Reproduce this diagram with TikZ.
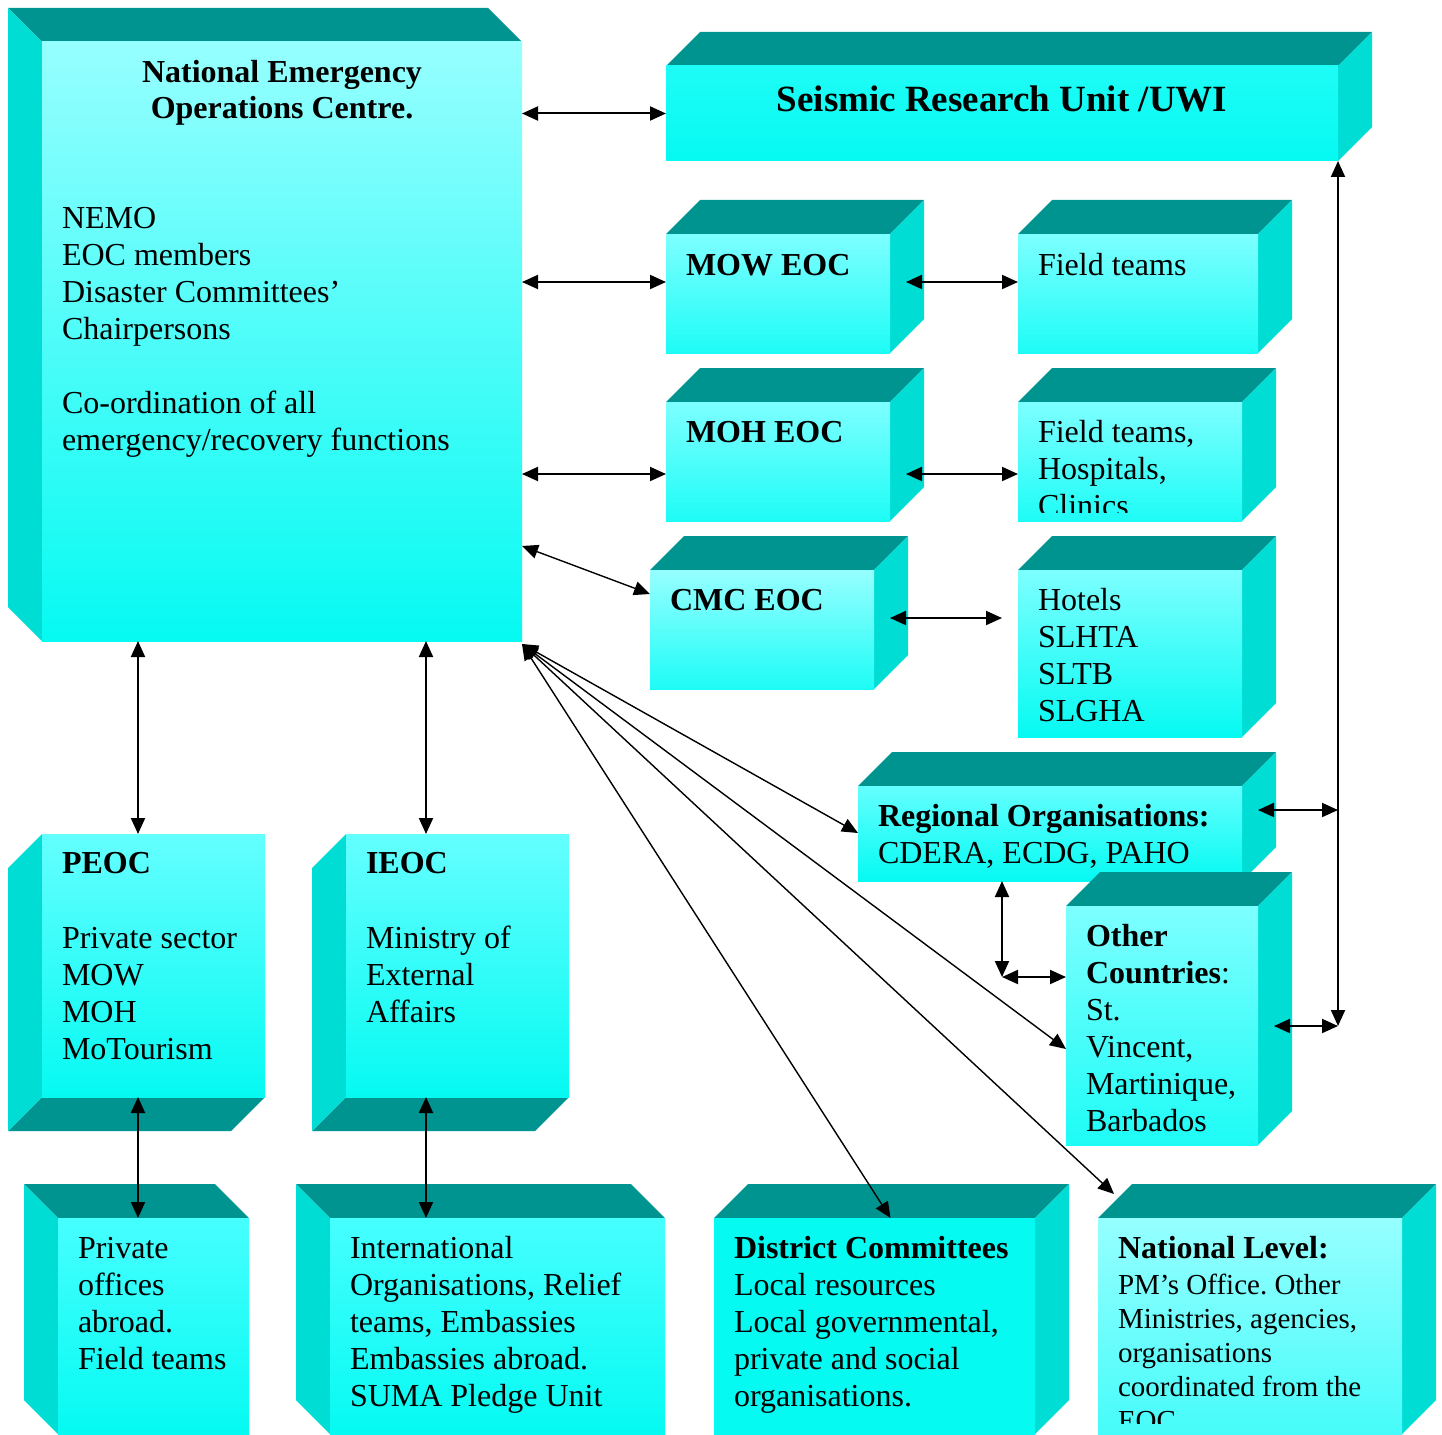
\documentclass[tikz,border=0pt]{standalone}
\usepackage{fontspec}
\setmainfont{Liberation Serif}
\usetikzlibrary{arrows.meta}
\frenchspacing
\definecolor{topc}{RGB}{0,148,144}
\definecolor{sidec}{RGB}{0,221,213}
\definecolor{lt}{RGB}{150,255,255}
\definecolor{ltb}{RGB}{125,255,255}
\definecolor{md}{RGB}{100,255,255}
\definecolor{mdb}{RGB}{70,255,255}
\definecolor{cy}{RGB}{5,250,242}
\definecolor{cyb}{RGB}{30,252,246}
\definecolor{natb}{RGB}{70,252,250}
\newcommand\fs[2]{\fontsize{#1}{#2}\selectfont}
\newcommand\fl{\rule{0pt}{24pt}}
% front face node + faces, extrusion up-right
\newcommand\cubeUR[7]{%
  \fill[topface] (#2,#3) -- ({#2+34},{#3-34}) -- ({#4+34},{#3-34}) -- (#4,#3) -- cycle;
  \fill[sideface] (#4,#3) -- ({#4+34},{#3-34}) -- ({#4+34},{#5-34}) -- (#4,#5) -- cycle;
  \node[front, top color=#6, bottom color=#7, minimum width={#4-#2}, minimum height={#5-#3}] (#1) at (#2,#3) {};
}
% extrusion up-left
\newcommand\cubeUL[7]{%
  \fill[topface] (#2,#3) -- ({#2-34},{#3-34}) -- ({#4-34},{#3-34}) -- (#4,#3) -- cycle;
  \fill[sideface] (#2,#3) -- ({#2-34},{#3-34}) -- ({#2-34},{#5-34}) -- (#2,#5) -- cycle;
  \node[front, top color=#6, bottom color=#7, minimum width={#4-#2}, minimum height={#5-#3}] (#1) at (#2,#3) {};
}
% extrusion down-left
\newcommand\cubeDL[7]{%
  \fill[topface] (#2,#5) -- ({#2-34},{#5+34}) -- ({#4-34},{#5+34}) -- (#4,#5) -- cycle;
  \fill[sideface] (#2,#3) -- ({#2-34},{#3+34}) -- ({#2-34},{#5+34}) -- (#2,#5) -- cycle;
  \node[front, top color=#6, bottom color=#7, minimum width={#4-#2}, minimum height={#5-#3}] (#1) at (#2,#3) {};
}
\tikzset{
  topface/.style={fill=topc},
  sideface/.style={fill=sidec},
  front/.style={rectangle, inner sep=0pt, outer sep=0pt, anchor=north west},
  txt/.style={anchor=north west, inner sep=0pt, outer sep=0pt, align=left, font=\fs{32}{37}},
  conn/.style={line width=2pt, {Triangle[length=16pt,width=14pt]}-{Triangle[length=16pt,width=14pt]}},
  diag/.style={conn, line width=1.4pt},
}
\begin{document}
\begin{tikzpicture}[x=1pt,y=-1pt]
\useasboundingbox (0,0) rectangle (1442,1434);
\fill[white] (0,0) rectangle (1442,1434);
% boxes
\cubeUL{neoc}{42}{42}{522}{641}{lt}{cy}
\cubeUR{sru}{666}{66}{1338}{161}{cyb}{cy}
\cubeUR{mow}{666}{234}{890}{353}{ltb}{cyb}
\cubeUR{ft1}{1018}{234}{1258}{353}{ltb}{cyb}
\cubeUR{moh}{666}{402}{890}{521}{ltb}{cyb}
\cubeUR{ft2}{1018}{402}{1242}{521}{ltb}{cyb}
\cubeUR{cmc}{650}{570}{874}{689}{lt}{cyb}
\cubeUR{hot}{1018}{570}{1242}{737}{ltb}{cy}
\cubeUR{reg}{858}{786}{1242}{881}{md}{cy}
\cubeUR{oth}{1066}{906}{1258}{1145}{ltb}{cyb}
\cubeDL{peoc}{42}{834}{265}{1097}{md}{cy}
\cubeDL{ieoc}{346}{834}{569}{1097}{md}{cy}
\cubeUL{po}{58}{1218}{249}{1434}{mdb}{cy}
\cubeUL{intl}{330}{1218}{665}{1434}{mdb}{cy}
\cubeUR{dist}{714}{1218}{1035}{1434}{cy}{cy}
\cubeUR{nat}{1098}{1218}{1402}{1434}{lt}{natb}
% texts
\node[txt, anchor=north, align=center, font=\fs{32}{36}\bfseries] (tneoc) at (282,59) {\fl National Emergency\\Operations Centre.};
\node[txt] (tneoc2) at (62,204) {\fl NEMO\\EOC members\\Disaster Committees’\\Chairpersons\\[37pt]Co-ordination of all\\emergency/recovery functions};
\node[anchor=base, inner sep=0pt, font=\fs{37}{42}\bfseries] (tsru) at (1002,112) {Seismic Research Unit /UWI};
\node[txt, font=\fs{32}{37}\bfseries] (tmow) at (686,251) {\fl MOW EOC};
\node[txt] (tft1) at (1038,251) {\fl Field teams};
\node[txt, font=\fs{32}{37}\bfseries] (tmoh) at (686,418) {\fl MOH EOC};
\begin{scope}
\clip (1018,402) rectangle (1242,512);
\node[txt] (tft2) at (1038,418) {\fl Field teams,\\Hospitals,\\Clinics};
\end{scope}
\node[txt, font=\fs{32}{37}\bfseries] (tcmc) at (670,586) {\fl CMC EOC};
\node[txt] (thot) at (1038,586) {\fl Hotels\\SLHTA\\SLTB\\SLGHA};
\node[txt] (treg) at (878,802) {\fl\textbf{Regional Organisations:}\\CDERA, ECDG, PAHO};
\node[txt] (toth) at (1086,922) {\fl\textbf{Other}\\\textbf{Countries}:\\St.\\Vincent,\\Martinique,\\Barbados};
\node[txt] (tpeoc) at (62,849) {\fl\textbf{PEOC}\\[38pt]Private sector\\MOW\\MOH\\MoTourism};
\node[txt] (tieoc) at (366,849) {\fl\textbf{IEOC}\\[38pt]Ministry of\\External\\Affairs};
\node[txt] (tpo) at (78,1234) {\fl Private\\offices\\abroad.\\Field teams};
\node[txt] (tintl) at (350,1234) {\fl International\\Organisations, Relief\\teams, Embassies\\Embassies abroad.\\SUMA Pledge Unit};
\node[txt] (tdist) at (734,1234) {\fl\textbf{District Committees}\\Local resources\\Local governmental,\\private and social\\organisations.};
\node[txt, font=\fs{32}{37}\bfseries] (tnat) at (1118,1234) {\fl National Level:};
\begin{scope}
\clip (1098,1260) rectangle (1402,1423);
\node[txt, font=\fs{29}{34}] (tnat2) at (1118,1272) {\rule{0pt}{22pt}PM’s Office. Other\\Ministries, agencies,\\organisations\\coordinated from the\\EOC};
\end{scope}
% connectors
\coordinate (rl1) at (1338,810);
\coordinate (rl2) at (1338,1026);
\coordinate (rc) at (1002,977);
\draw[conn] (neoc.east |- sru.west) -- (sru.west);
\draw[conn] (neoc.east |- 0,282) -- (mow.west |- 0,282);
\draw[conn] ([xshift=16pt]mow.east |- 0,282) -- (ft1.west |- 0,282);
\draw[conn] (neoc.east |- 0,474) -- (moh.west |- 0,474);
\draw[conn] ([xshift=16pt]moh.east |- 0,474) -- (ft2.west |- 0,474);
\draw[diag] (neoc.east |- 0,546) -- (cmc.west |- 0,594);
\draw[conn] ([xshift=16pt]cmc.east |- 0,618) -- ([xshift=-16pt]hot.west |- 0,618);
\draw[diag] ([yshift=-3pt]neoc.south east) -- (reg.west |- 0,833);
\draw[diag] ([yshift=-3pt]neoc.south east) -- (oth.west |- 0,1049);
\draw[diag] ([yshift=-3pt]neoc.south east) -- ([xshift=16pt]dist.north);
\draw[diag] ([yshift=-3pt]neoc.south east) -- ([shift={(16pt,24pt)}]nat.north west);
\draw[conn] (neoc.south -| 138,0) -- (peoc.north -| 138,0);
\draw[conn] (neoc.south -| 426,0) -- (ieoc.north -| 426,0);
\draw[conn] (peoc.south -| 138,0) -- (po.north -| 138,0);
\draw[conn] (ieoc.south -| 426,0) -- (intl.north -| 426,0);
\draw[conn] (sru.south east) -- (rl2);
\draw[conn] ([xshift=16pt]reg.east |- rl1) -- (rl1);
\draw[conn] ([xshift=16pt]oth.east |- rl2) -- (rl2);
\draw[conn] (reg.south -| rc) -- (rc);
\draw[conn] (rc) -- (oth.west |- rc);
\end{tikzpicture}
\end{document}
